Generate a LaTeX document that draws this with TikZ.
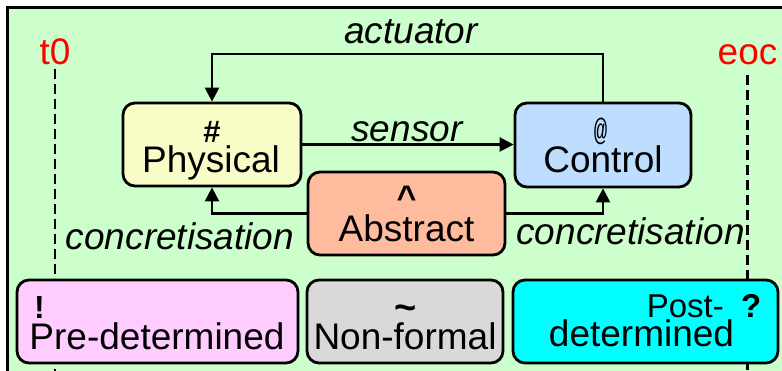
\documentclass[tikz,border=0pt]{standalone}
\usepackage{fontspec}
\setmainfont{Liberation Sans}
\setmonofont{Liberation Mono}
\usetikzlibrary{arrows.meta}

\definecolor{bggreen}{HTML}{CCFFCC}
\definecolor{physfill}{HTML}{FAFCC8}
\definecolor{ctrlfill}{HTML}{BDDEFF}
\definecolor{absfill}{HTML}{FFBB9E}
\definecolor{prefill}{HTML}{FFCCFF}
\definecolor{nonfill}{HTML}{D9D9D9}
\definecolor{postfill}{HTML}{00FFFF}

\begin{document}
\begin{tikzpicture}[x=1pt,y=-1pt,
  box/.style={draw=black, line width=2.8pt, rounded corners=12pt, inner sep=0pt},
  txt/.style={inner sep=0pt, anchor=base, font=\fontsize{37}{40}\selectfont},
  lbl/.style={inner sep=0pt, anchor=base, font=\fontsize{37}{40}\selectfont\itshape},
  sym/.style={inner sep=0pt, anchor=base, font=\fontsize{32}{36}\selectfont\bfseries},
  link/.style={line width=2.5pt},
  arr/.style={link, -{Triangle[length=14pt,width=14pt]}},
  timeline/.style={line width=2.5pt, dash pattern=on 10pt off 5pt},
  marker/.style={inner sep=0pt, anchor=base, text=red, font=\fontsize{37}{40}\selectfont}]

\useasboundingbox (0,0) rectangle (782,371);
\clip (0,0) rectangle (782,371);

% panel background
\draw[fill=bggreen, line width=3pt] (7,8) rectangle (800,400);

% time markers
\node[marker] (t0) at (55,65) {t0};
\node[marker] (eoc) at (747.5,65) {eoc};
\coordinate (t0end) at (55,380);
\coordinate (eocend) at (747.5,380);
\draw[timeline] ([yshift=-3pt]t0.south) -- (t0end);
\draw[timeline] ([yshift=-9pt]eoc.south) -- (eocend);

% upper boxes
\node[box, fill=physfill, minimum width=178pt, minimum height=83pt] (phys) at (212,144.5) {};
\node[box, fill=ctrlfill, minimum width=176pt, minimum height=84pt] (ctrl) at (603,145) {};
\node[box, fill=absfill, minimum width=197pt, minimum height=83pt] (abs) at (406.5,213.5) {};

\node[sym, font=\fontsize{31}{34}\selectfont\bfseries] (physsym) at (212,143) {\#};
\node[txt] (phystxt) at (211,173) {Physical};
\node[inner sep=0pt, anchor=base, font=\fontsize{31}{34}\selectfont\ttfamily] (ctrlsym) at (600.5,141) {\scalebox{0.72}[1]{@}};
\node[txt] (ctrltxt) at (603,173) {Control};
\node[sym, font=\fontsize{34}{38}\selectfont\bfseries] (abssym) at (406.5,210) {\textasciicircum};
\node[txt] (abstxt) at (406.5,242) {Abstract};

% connectors
\coordinate (acttop) at (0,54);
\draw[arr] (ctrl.north) -- (ctrl.north |- acttop) -| (phys.north);
\draw[arr] (phys.east) -- (phys.east -| ctrl.west);
\draw[arr] (abs.west) -| (phys.south);
\draw[arr] (abs.east) -| (ctrl.south);

\node[lbl] (actlbl) at (411,44) {actuator};
\node[lbl] (senlbl) at (407,142) {sensor};
\node[lbl] (conleft) at (180,250) {concretisation};
\node[lbl] (conright) at (630.5,245) {concretisation};

% lower boxes
\node[box, fill=prefill, minimum width=281pt, minimum height=83pt] (pre) at (157.5,321.5) {};
\node[box, fill=nonfill, minimum width=196pt, minimum height=83pt] (non) at (405,321.5) {};
\node[box, fill=postfill, minimum width=265pt, minimum height=83pt] (post) at (645.5,321.5) {};

\node[sym] (presym) at (39.5,319) {!};
\node[txt] (pretxt) at (157,350) {Pre-determined};
\node[sym, font=\fontsize{38}{42}\selectfont\bfseries] (nonsym) at (405.5,321) {\textasciitilde};
\node[txt] (nontxt) at (405,350) {Non-formal};
\node[inner sep=0pt, anchor=base east, font=\fontsize{33}{36}\selectfont] (posttop) at (724,318) {Post-};
\node[inner sep=0pt, anchor=base west, font=\fontsize{33}{36}\selectfont\bfseries] (postsym) at (741,318) {?};
\node[txt] (posttxt) at (641.5,347) {determined};
\end{tikzpicture}
\end{document}
